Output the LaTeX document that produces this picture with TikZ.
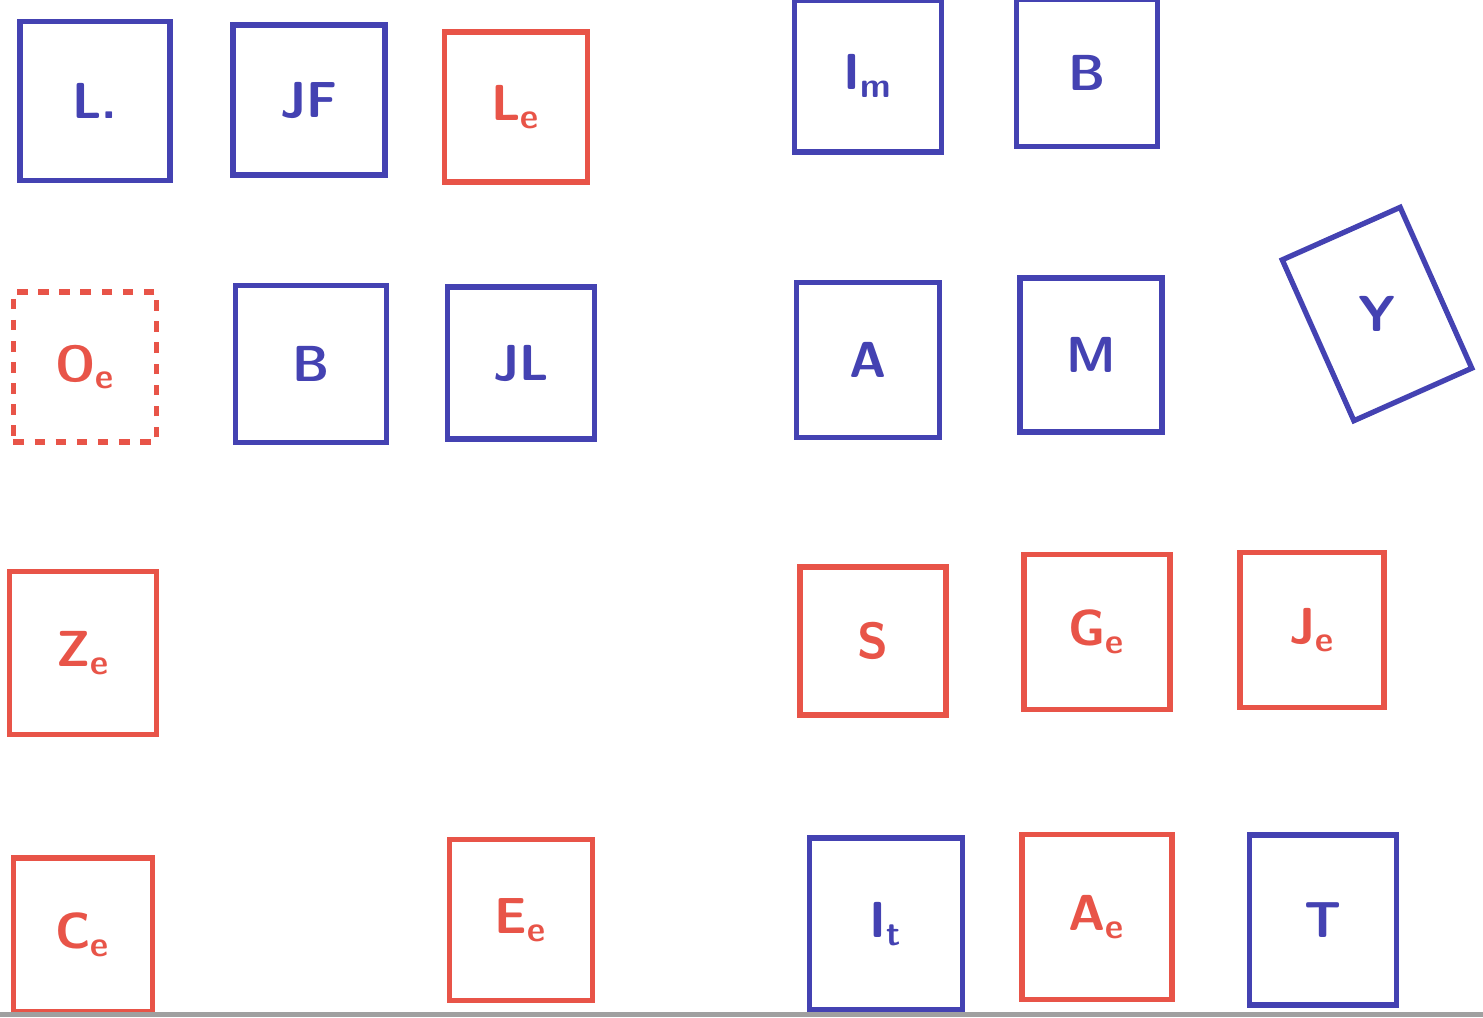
\documentclass[tikz,border=0pt]{standalone}
\usepackage{tikz}
\usetikzlibrary{positioning}
\definecolor{penblue}{RGB}{68,66,178}
\definecolor{penred}{RGB}{232,84,72}
\definecolor{scangray}{RGB}{160,160,160}

\begin{document}
\begin{tikzpicture}[x=0.01cm, y=-0.01cm,
  card/.style={draw, line width=1.5pt, minimum width=1.45cm, minimum height=1.55cm, inner sep=0pt, font=\Large\sffamily\bfseries},
  bluecard/.style={card, draw=penblue, text=penblue},
  redcard/.style={card, draw=penred, text=penred}]
\useasboundingbox (0,0) rectangle (1483,1017);
% top row
\node[bluecard, minimum width=1.50cm, minimum height=1.59cm] (l) at (95,101) {L.};
\node[bluecard, minimum width=1.52cm, minimum height=1.50cm] (jf) at (309,100) {JF};
\node[redcard, minimum width=1.43cm, minimum height=1.50cm] (le) at (516,107) {L\textsubscript{e}};
\node[bluecard, minimum width=1.47cm, minimum height=1.52cm] (im) at (868,76) {I\textsubscript{m}};
\node[bluecard, minimum width=1.41cm, minimum height=1.47cm] (b1) at (1087,73) {B};
% second row
\node[redcard, dashed, minimum width=1.43cm, minimum height=1.50cm] (oe) at (85,367) {O\textsubscript{e}};
\node[bluecard, minimum width=1.51cm, minimum height=1.57cm] (b2) at (311,364) {B};
\node[bluecard, minimum width=1.47cm, minimum height=1.52cm] (jl) at (521,363) {JL};
\node[bluecard, minimum width=1.43cm, minimum height=1.55cm] (a) at (868,360) {A};
\node[bluecard, minimum width=1.42cm, minimum height=1.54cm] (m) at (1091,355) {M};
\node[bluecard, rotate=24, minimum width=1.29cm, minimum height=1.76cm] (ybox) at (1377,314) {};
\node[text=penblue, font=\Large\sffamily\bfseries] (y) at (ybox.center) {Y};
% third row
\node[redcard, minimum width=1.47cm, minimum height=1.63cm] (ze) at (83,653) {Z\textsubscript{e}};
\node[redcard, minimum width=1.46cm, minimum height=1.48cm] (s) at (873,641) {S};
\node[redcard, minimum width=1.46cm, minimum height=1.55cm] (ge) at (1097,632) {G\textsubscript{e}};
\node[redcard, minimum width=1.44cm, minimum height=1.55cm] (je) at (1312,630) {J\textsubscript{e}};
% bottom row
\node[redcard, minimum width=1.39cm, minimum height=1.54cm] (ce) at (83,935) {C\textsubscript{e}};
\node[redcard, minimum width=1.43cm, minimum height=1.61cm] (ee) at (521,920) {E\textsubscript{e}};
\node[bluecard, minimum width=1.53cm, minimum height=1.72cm] (it) at (886,924) {I\textsubscript{t}};
\node[redcard, minimum width=1.50cm, minimum height=1.65cm] (ae) at (1097,917) {A\textsubscript{e}};
\node[bluecard, minimum width=1.47cm, minimum height=1.70cm] (t) at (1323,920) {T};
% scan edge
\fill[scangray] (0,1012) rectangle (1483,1017);
\end{tikzpicture}
\end{document}
